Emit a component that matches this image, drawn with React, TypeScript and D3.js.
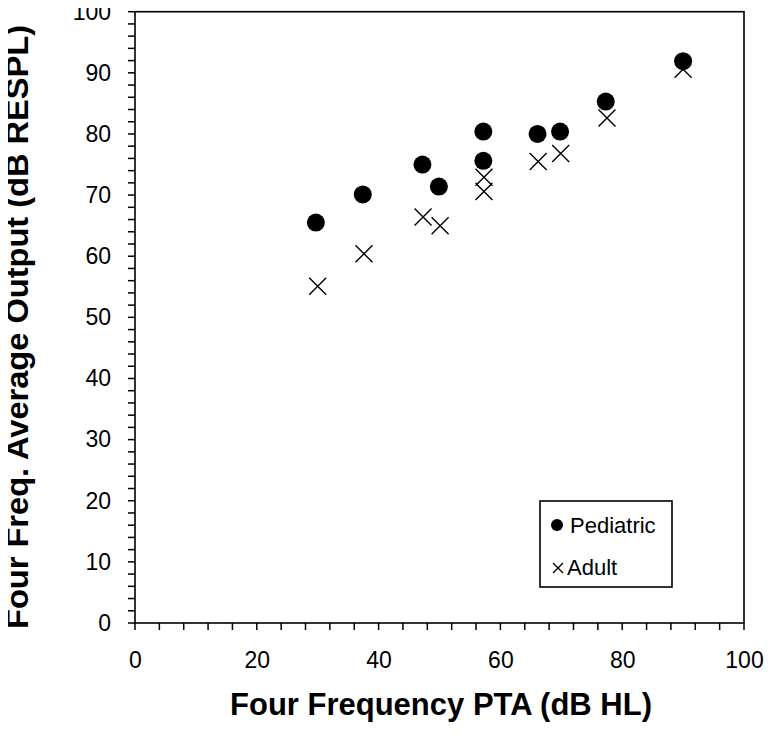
import React, { useEffect, useRef } from "react";
import * as d3 from "d3";

// values
const pediatricX = [29.7, 37.4, 47.2, 49.9, 57.2, 57.2, 66.1, 69.8, 77.3, 90.0];
const pediatricY = [65.5, 70.1, 75.0, 71.4, 80.4, 75.6, 80.0, 80.4, 85.3, 91.9];
const adultX = [30.0, 37.6, 47.3, 50.1, 57.3, 57.3, 66.2, 69.9, 77.5, 90.0];
const adultY = [55.1, 60.4, 66.4, 65.0, 72.9, 70.6, 75.5, 76.8, 82.6, 90.6];
const xTicks = [0, 20, 40, 60, 80, 100];
const yTicks = [0, 10, 20, 30, 40, 50, 60, 70, 80, 90, 100];
const seriesNames = ["Pediatric", "Adult"];

const W = 775, H = 742;
const margin = { top: 11.7, right: 31, bottom: 119, left: 135 };
const font = "Liberation Sans, Arial, sans-serif";

export default function App() {
  const ref = useRef<SVGSVGElement>(null);

  useEffect(() => {
    const svg = d3.select(ref.current);
    svg.selectAll("*").remove();

    const x = d3.scaleLinear().domain([0, 100]).range([margin.left, W - margin.right]);
    const y = d3.scaleLinear().domain([0, 100]).range([H - margin.bottom, margin.top]);

    // frame
    svg.append("rect")
      .attr("x", x(0)).attr("y", y(100))
      .attr("width", x(100) - x(0)).attr("height", y(0) - y(100))
      .attr("fill", "none").attr("stroke", "#000").attr("stroke-width", 1.6);

    // minor ticks (Excel style: major / 5)
    const xMinor = d3.range(0, 101, 4);
    const yMinor = d3.range(0, 101, 2);
    svg.append("g").selectAll("line").data(xMinor).enter().append("line")
      .attr("x1", d => x(d)).attr("x2", d => x(d))
      .attr("y1", y(0)).attr("y2", y(0) + 7)
      .attr("stroke", "#000").attr("stroke-width", 1.5);
    svg.append("g").selectAll("line").data(yMinor).enter().append("line")
      .attr("y1", d => y(d)).attr("y2", d => y(d))
      .attr("x1", x(0) - 7).attr("x2", x(0))
      .attr("stroke", "#000").attr("stroke-width", 1.5);

    // axis labels
    const xAxis = svg.append("g")
      .attr("transform", `translate(0,${y(0)})`)
      .call(d3.axisBottom(x).tickValues(xTicks).tickSize(0).tickPadding(29));
    xAxis.select(".domain").remove();
    xAxis.selectAll("text").attr("font-size", 23).attr("font-family", font).attr("fill", "#000");

    const yAxis = svg.append("g")
      .attr("transform", `translate(${x(0)},0)`)
      .call(d3.axisLeft(y).tickValues(yTicks).tickSize(0).tickPadding(24));
    yAxis.select(".domain").remove();
    yAxis.selectAll("text").attr("font-size", 23).attr("font-family", font).attr("fill", "#000");

    // titles
    svg.append("text")
      .attr("x", 441).attr("y", 715)
      .attr("text-anchor", "middle").attr("font-family", font)
      .attr("font-size", 32).attr("font-weight", "bold")
      .attr("textLength", 422).attr("lengthAdjust", "spacingAndGlyphs")
      .text("Four Frequency PTA (dB HL)");
    svg.append("text")
      .attr("transform", `translate(28,327) rotate(-90)`)
      .attr("text-anchor", "middle").attr("font-family", font)
      .attr("font-size", 32).attr("font-weight", "bold")
      .attr("textLength", 604).attr("lengthAdjust", "spacingAndGlyphs")
      .text("Four Freq. Average Output (dB RESPL)");

    const cross = (g: any, cx: number, cy: number, s: number) => {
      g.append("path")
        .attr("d", `M${cx - s},${cy - s}L${cx + s},${cy + s}M${cx - s},${cy + s}L${cx + s},${cy - s}`)
        .attr("stroke", "#000").attr("stroke-width", 1.4).attr("fill", "none");
    };

    // adult crosses
    const adultG = svg.append("g");
    adultX.forEach((v, i) => cross(adultG, x(v), y(adultY[i]), 8.5));

    // pediatric dots
    svg.append("g").selectAll("circle").data(pediatricX).enter().append("circle")
      .attr("cx", d => x(d)).attr("cy", (d, i) => y(pediatricY[i]))
      .attr("r", 9).attr("fill", "#000");

    // legend
    const lg = svg.append("g").attr("transform", "translate(540,501)");
    lg.append("rect").attr("width", 132).attr("height", 86)
      .attr("fill", "#fff").attr("stroke", "#000").attr("stroke-width", 1.6);
    lg.append("circle").attr("cx", 17).attr("cy", 24).attr("r", 6).attr("fill", "#000");
    cross(lg, 18, 67, 5);
    seriesNames.forEach((n, i) => {
      lg.append("text").attr("x", i === 0 ? 30 : 27).attr("y", 32 + i * 42)
        .attr("font-family", font).attr("font-size", 22).text(n);
    });
  }, []);

  return <svg ref={ref} width={W} height={H} style={{ display: "block", margin: -8, background: "#fff" }} />;
}
